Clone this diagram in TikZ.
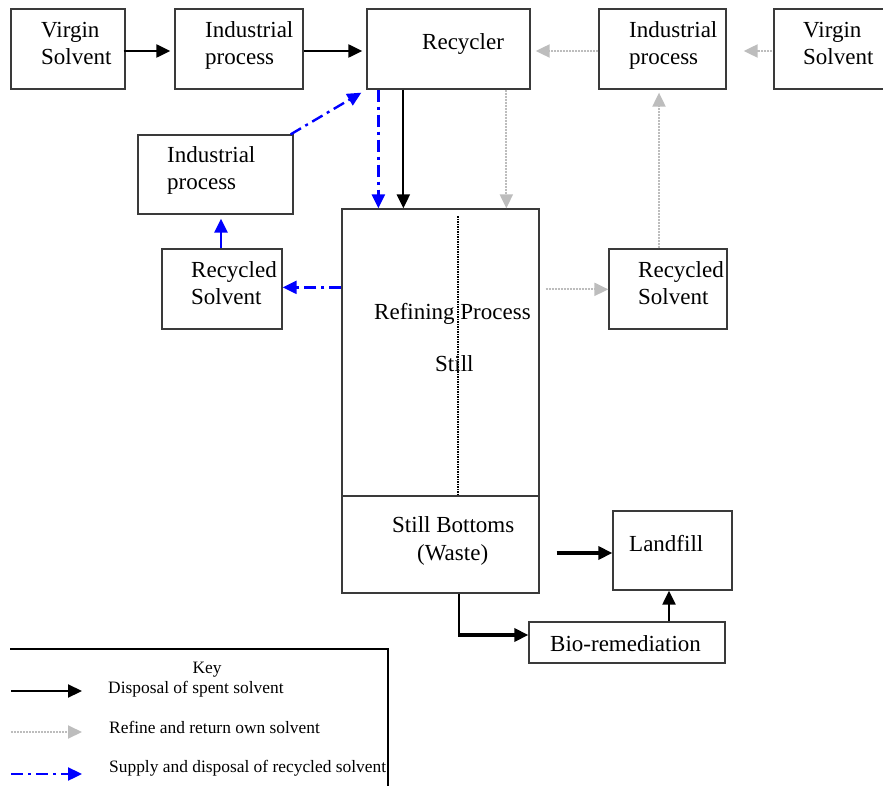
\documentclass[tikz,border=0pt]{standalone}
\usepackage{fontspec}
\setmainfont{Liberation Serif}
\usetikzlibrary{arrows.meta,calc}
\definecolor{boxgray}{HTML}{3A3A3A}
\definecolor{lgray}{HTML}{BDBDBD}
\begin{document}
\begin{tikzpicture}[x=1pt,y=-1pt,
  box/.style={draw=boxgray,line width=1.3pt,inner sep=0pt},
  txt/.style={anchor=base west,inner sep=0pt,align=left,font=\fontsize{23}{27}\selectfont},
  keytxt/.style={anchor=base west,inner sep=0pt,font=\fontsize{17.4}{20}\selectfont},
  blk/.style={draw=black,line width=2.2pt,-{Triangle[length=14pt,width=13pt]}},
  blkt/.style={draw=black,line width=3.6pt,-{Triangle[length=14pt,width=13pt]}},
  thinblk/.style={draw=black,line width=1.6pt},
  gry/.style={draw=lgray,line width=2pt,dash pattern=on 2pt off 1pt,-{Triangle[length=14pt,width=13pt,fill=lgray]}},
  blu/.style={draw=blue,line width=2.4pt,dash pattern=on 12pt off 5pt on 3pt off 5pt,-{Triangle[length=14pt,width=13pt,fill=blue]}},
  blus/.style={draw=blue,line width=2.4pt,-{Triangle[length=14pt,width=13pt,fill=blue]}},
  dotline/.style={draw=black,line width=2pt,dash pattern=on 1.5pt off 1pt},
  keyline/.style={draw=black,line width=1.3pt}]
\useasboundingbox (0,0) rectangle (883,786);

% boxes
\node[box,minimum width=114pt,minimum height=80pt] (vsL) at (68,49) {};
\node[box,minimum width=128pt,minimum height=80pt] (ipL) at (239,49) {};
\node[box,minimum width=163pt,minimum height=80pt] (rec) at (448.5,49) {};
\node[box,minimum width=127pt,minimum height=80pt] (ipR) at (662.5,49) {};
\node[box,minimum width=120pt,minimum height=80pt] (vsR) at (834,49) {};
\node[box,minimum width=155pt,minimum height=79pt] (ipM) at (215.5,174.5) {};
\node[box,minimum width=120pt,minimum height=80pt] (rsL) at (222,289) {};
\node[box,minimum width=118pt,minimum height=80pt] (rsR) at (668,289) {};
\node[box,minimum width=197pt,minimum height=287pt] (still) at (440.5,352.5) {};
\node[box,minimum width=197pt,minimum height=97pt] (bot) at (440.5,544.5) {};
\node[box,minimum width=119pt,minimum height=79pt] (land) at (672.5,550.5) {};
\node[box,minimum width=196pt,minimum height=41pt] (bio) at (627,642.5) {};

% texts (two-line nodes are anchored at the baseline of their last line)
\node[txt] (t1) at (41,65) {Virgin\\Solvent};
\node[txt] (t2) at (205,65) {Industrial\\process};
\node[txt] (t3) at (422,50) {Recycler};
\node[txt] (t4) at (629,65) {Industrial\\process};
\node[txt] (t5) at (803,65) {Virgin\\Solvent};
\node[txt] (t6) at (167,190) {Industrial\\process};
\node[txt] (t7) at (191,305) {Recycled\\Solvent};
\node[txt] (t8) at (638,305) {Recycled\\Solvent};
\node[txt] (t9) at (374,319) {Refining Process};
\node[txt] (t10) at (435,371) {Still};
\node[txt] (t11) at (392,532) {Still Bottoms};
\node[txt] (t12) at (417,560) {(Waste)};
\node[txt] (t13) at (629,551) {Landfill};
\node[txt] (t14) at (550,651) {Bio-remediation};

% dotted divider inside the still
\draw[dotline] ($(still.north)+(17.5,8)$) -- ($(still.south)+(17.5,-2)$);

% connectors
\draw[blk] ($(vsL.east)+(-2,2)$) -- ($(ipL.west)+(-4,2)$);
\draw[blk] ($(ipL.east)+(0,2)$) -- ($(rec.west)+(-4,2)$);
\draw[gry] ($(ipR.west)+(0,2)$) -- ($(rec.east)+(5,2)$);
\draw[gry] ($(vsR.west)+(-1,2)$) -- ($(ipR.east)+(17,2)$);
\draw[blu] ($(ipM.north east)+(-3,0)$) -- ($(rec.south west)+(-5,3)$);
\coordinate (c1) at ($(rec.south west)+(12,0)$);
\draw[blu] (c1) -- (c1 |- still.north);
\coordinate (c2) at ($(rec.south west)+(37,0)$);
\draw[blk] (c2) -- (c2 |- still.north);
\coordinate (c3) at ($(rec.south west)+(140,0)$);
\draw[gry] (c3) -- (c3 |- still.north);
\coordinate (c4) at ($(still.north west)+(0,79)$);
\draw[blu] (c4) -- (c4 -| rsL.east);
\draw[blus] ($(rsL.north)+(-1,0)$) -- ($(rsL.north |- ipM.south)+(-1,4)$);
\coordinate (c5) at ($(still.north east)+(6,81)$);
\draw[gry] (c5) -- (c5 -| rsR.west);
\coordinate (c6) at ($(rsR.north)+(-9,0)$);
\draw[gry] (c6) -- ($(c6 |- ipR.south)+(0,3)$);
\coordinate (c7) at ($(bot.east)+(17,8.5)$);
\draw[blkt] (c7) -- (c7 -| land.west);
\coordinate (c8) at ($(bot.south)+(18.5,0)$);
\coordinate (c9) at ($(bio.west)+(0,-7.5)$);
\draw[thinblk] (c8) -- (c8 |- c9);
\draw[blkt] ($(c8 |- c9)+(-1,0)$) -- (c9);
\coordinate (c10) at ($(bio.north)+(42,0)$);
\draw[blk] (c10) -- (c10 |- land.south);

% key
\coordinate (k1) at (10,649);
\coordinate (k2) at (388,649);
\coordinate (k3) at (388,790);
\draw[keyline] (k1) -- (k2) -- (k3);
\node[keytxt,anchor=base] (kt0) at (207,673) {Key};
\node[keytxt] (kt1) at (108,693) {Disposal of spent solvent};
\node[keytxt] (kt2) at (109,733) {Refine and return own solvent};
\node[keytxt] (kt3) at (109,772) {Supply and disposal of recycled solvent};
\coordinate (ka1) at (11,691);
\coordinate (ka2) at (82,691);
\coordinate (kb1) at (11,732);
\coordinate (kb2) at (82,732);
\coordinate (kc1) at (11,774);
\coordinate (kc2) at (82,774);
\draw[blk] (ka1) -- (ka2);
\draw[gry] (kb1) -- (kb2);
\draw[blu] (kc1) -- (kc2);
\end{tikzpicture}
\end{document}
